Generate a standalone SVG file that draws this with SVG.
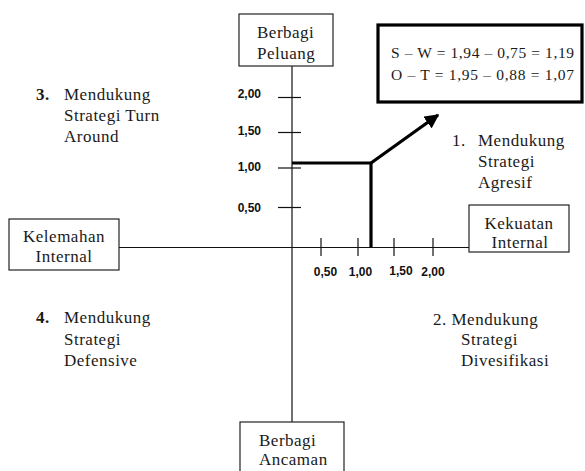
<svg xmlns="http://www.w3.org/2000/svg" width="585" height="471" viewBox="0 0 585 471">
<defs>
<style>
.box{fill:#fff;stroke:#222;stroke-width:1.2}
.t{font-family:"Liberation Serif","Times New Roman",serif;font-size:17px;fill:#1a1a1a;letter-spacing:0.5px}
.n{font-family:"Liberation Sans",Arial,sans-serif;font-size:12px;font-weight:bold;fill:#111}
.ax{stroke:#111;stroke-width:1.2;fill:none}
.thick{stroke:#000;stroke-width:3.2;fill:none}
.f{font-family:"Liberation Serif","Times New Roman",serif;font-size:15.5px;fill:#1a1a1a}
</style>
<marker id="ah" viewBox="0 0 10 10" refX="9" refY="5" markerWidth="4.5" markerHeight="4.5" orient="auto" markerUnits="strokeWidth">
<path d="M0,0 L10,5 L0,10 z" fill="#000"/>
</marker>
</defs>
<rect width="585" height="471" fill="#fff"/>
<g id="connectors">
<line class="ax" x1="292" y1="66" x2="292" y2="422"/>
<line class="ax" x1="119" y1="247.5" x2="469" y2="247.5"/>
<g class="ax">
<line x1="278" y1="97.5" x2="301" y2="97.5"/>
<line x1="278" y1="132.5" x2="301" y2="132.5"/>
<line x1="278" y1="168" x2="301" y2="168"/>
<line x1="278" y1="207.5" x2="301" y2="207.5"/>
<line x1="321" y1="238" x2="321" y2="256"/>
<line x1="358" y1="238" x2="358" y2="256"/>
<line x1="394" y1="238" x2="394" y2="256"/>
<line x1="433" y1="238" x2="433" y2="256"/>
</g>
<polyline class="thick" points="292,163 371,163 371,247"/>
<line class="thick" x1="371" y1="163" x2="438" y2="115" marker-end="url(#ah)"/>
</g>
<g id="y-labels">
<text class="n" x="261" y="98" text-anchor="end">2,00</text>
<text class="n" x="261" y="135" text-anchor="end">1,50</text>
<text class="n" x="261" y="171" text-anchor="end">1,00</text>
<text class="n" x="261" y="212" text-anchor="end">0,50</text>
</g>
<g id="x-labels">
<text class="n" x="325.5" y="276" text-anchor="middle">0,50</text>
<text class="n" x="360.5" y="276" text-anchor="middle">1,00</text>
<text class="n" x="401" y="275" text-anchor="middle">1,50</text>
<text class="n" x="433" y="276" text-anchor="middle">2,00</text>
</g>
<g id="berbagi-peluang">
<rect class="box" x="239" y="14" width="94" height="52"/>
<text class="t" x="257" y="38">Berbagi</text>
<text class="t" x="257" y="59">Peluang</text>
</g>
<g id="berbagi-ancaman">
<rect class="box" x="240" y="422" width="104" height="60"/>
<text class="t" x="259" y="446">Berbagi</text>
<text class="t" x="259" y="465">Ancaman</text>
</g>
<g id="kelemahan-internal">
<rect class="box" x="9" y="219" width="110" height="51"/>
<text class="t" x="64" y="242" text-anchor="middle">Kelemahan</text>
<text class="t" x="64" y="262" text-anchor="middle">Internal</text>
</g>
<g id="kekuatan-internal">
<rect class="box" x="469" y="205" width="100" height="47"/>
<text class="t" x="519" y="229" text-anchor="middle">Kekuatan</text>
<text class="t" x="520" y="248" text-anchor="middle">Internal</text>
</g>
<g id="formula">
<rect x="378" y="25" width="204" height="77" fill="#fff" stroke="#000" stroke-width="3.2"/>
<text class="f" x="391" y="58" textLength="183" lengthAdjust="spacing">S – W = 1,94 – 0,75 = 1,19</text>
<text class="f" x="391" y="80" textLength="183" lengthAdjust="spacing">O – T = 1,95 – 0,88 = 1,07</text>
</g>
<g id="q1">
<text class="t" x="452" y="146">1.</text>
<text class="t" x="478" y="146">Mendukung</text>
<text class="t" x="478" y="167">Strategi</text>
<text class="t" x="478" y="188">Agresif</text>
</g>
<g id="q2">
<text class="t" x="433" y="325">2. Mendukung</text>
<text class="t" x="461" y="345">Strategi</text>
<text class="t" x="461" y="366">Divesifikasi</text>
</g>
<g id="q3">
<text class="t" x="36" y="100" font-weight="bold">3.</text>
<text class="t" x="64" y="100">Mendukung</text>
<text class="t" x="64" y="121">Strategi Turn</text>
<text class="t" x="64" y="142">Around</text>
</g>
<g id="q4">
<text class="t" x="36" y="323" font-weight="bold">4.</text>
<text class="t" x="64" y="323">Mendukung</text>
<text class="t" x="64" y="345">Strategi</text>
<text class="t" x="64" y="366">Defensive</text>
</g>
</svg>
